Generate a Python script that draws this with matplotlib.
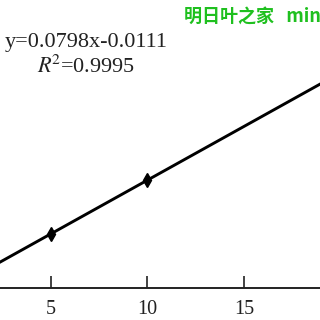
import matplotlib
matplotlib.use('Agg')
import matplotlib.pyplot as plt

# regression line end points (from the equation in the chart)
fit_x = [0, 20]
fit_y = [-0.0111, 1.585]
# measured standards visible in the crop
pt_x = [5, 10]
pt_y = [0.388, 0.79]
x_ticks = [5, 10, 15, 20]

plt.rcParams['mathtext.fontset'] = 'stix'

fig = plt.figure(figsize=(3.2, 3.2), dpi=100)
ax = fig.add_axes([0, 0.1, 1, 0.9])

ax.plot(fit_x, fit_y, color='black', lw=2.1, solid_capstyle='round')
ax.plot(pt_x, pt_y, linestyle='none', marker='d', markersize=7, color='black')

ax.set_xticks(x_ticks)
ax.set_yticks([])
ax.set_xlim(2.36, 18.94)
ax.set_ylim(-0.015, 2.126)
ax.tick_params(axis='x', direction='in', length=9, width=1.2, pad=9,
               labelsize=14.5, labelfontfamily='Liberation Serif', colors='#222222')
for s in ['left', 'top', 'right']:
    ax.spines[s].set_visible(False)
ax.spines['bottom'].set_linewidth(1.4)
ax.spines['bottom'].set_color('#222222')

fig.text(86.5 / 320, 1 - 42 / 320, 'y=0.0798x-0.0111', ha='center', va='center',
         fontsize=16, family='Liberation Serif', color='#222222')
fig.text(86.5 / 320, 1 - 67 / 320, r'$R^{\!2}$=0.9995', ha='center', va='center',
         fontsize=16, family='Liberation Serif', color='#222222')

fig.text(184 / 320, 1 - 16 / 320, '明日叶之家   min', ha='left', va='center',
         fontsize=13, fontweight='bold', color='#1fc01f',
         family=['Noto Sans CJK SC', 'DejaVu Sans'])

fig.savefig('out.png', dpi=100)
